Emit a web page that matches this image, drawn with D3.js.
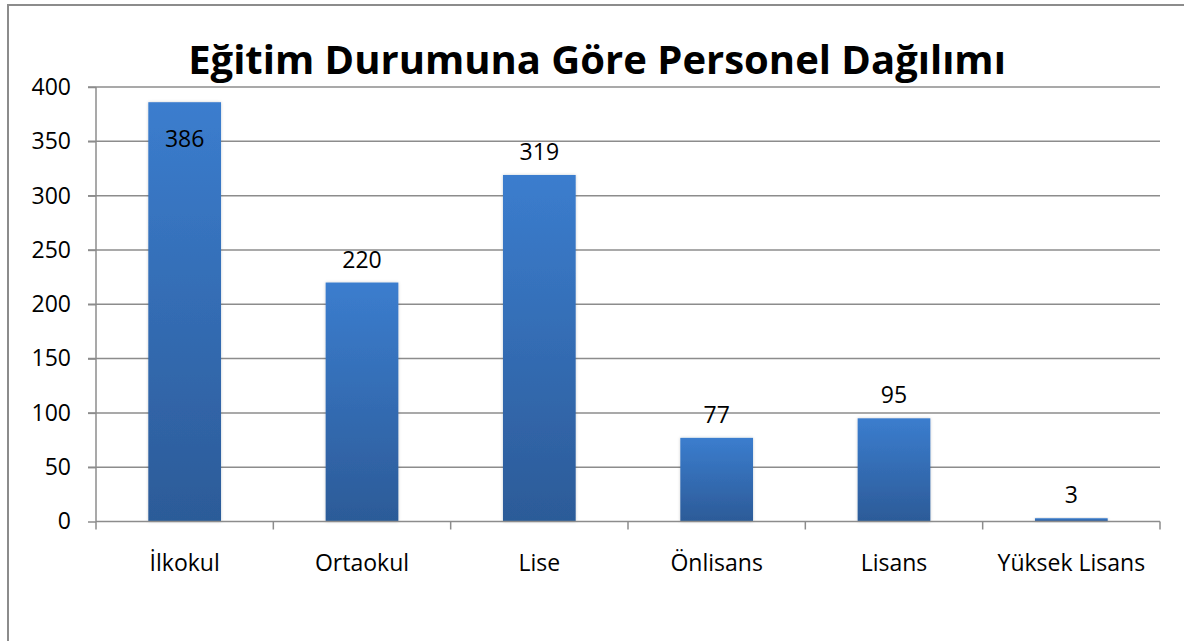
<!DOCTYPE html>
<html>
<head>
<meta charset="utf-8">
<script src="https://cdn.jsdelivr.net/npm/d3@7"></script>
<style>
  body { margin: 0; background: #fff; }
  svg { display: block; font-family: "Open Sans", "Noto Sans", sans-serif; }
</style>
</head>
<body>
<svg width="1184" height="641"></svg>
<script>
// chart data
let categories = ["İlkokul", "Ortaokul", "Lise", "Önlisans", "Lisans", "Yüksek Lisans"];
let values = [386, 220, 319, 77, 95, 3];
let yTicks = [0, 50, 100, 150, 200, 250, 300, 350, 400];
let title = "Eğitim Durumuna Göre Personel Dağılımı";

let svg = d3.select("svg");
let font = "'Open Sans', 'Noto Sans', sans-serif";
let margin = { top: 87, right: 24, bottom: 120, left: 96 };
let plotWidth = 1160 - margin.left;
let plotHeight = 521.5 - margin.top;

// outer frame (runs past the right and bottom edges)
svg.append("rect")
  .attr("x", 8).attr("y", 5)
  .attr("width", 1200).attr("height", 700)
  .attr("fill", "none")
  .attr("stroke", "#8c8c8c")
  .attr("stroke-width", 2);

// gradient for bars
let defs = svg.append("defs");
let grad = defs.append("linearGradient")
  .attr("id", "barGrad")
  .attr("x1", 0).attr("y1", 0).attr("x2", 0).attr("y2", 1);
grad.append("stop").attr("offset", "0%").attr("stop-color", "#3b7dce");
grad.append("stop").attr("offset", "100%").attr("stop-color", "#2c5b98");

let shadow = defs.append("filter").attr("id", "shadow")
  .attr("x", "-20%").attr("y", "-20%").attr("width", "140%").attr("height", "140%");
shadow.append("feDropShadow")
  .attr("dx", 0).attr("dy", 0).attr("stdDeviation", 1.5)
  .attr("flood-color", "#000").attr("flood-opacity", 0.2);

let x = d3.scaleBand().domain(categories).range([0, plotWidth]);
let y = d3.scaleLinear().domain([0, 400]).range([plotHeight, 0]);
let barWidth = x.bandwidth() * 0.41;

let plot = svg.append("g")
  .attr("transform", "translate(" + margin.left + "," + margin.top + ")");

// gridlines
plot.append("g").selectAll("line")
  .data(yTicks.filter(d => d > 0))
  .join("line")
  .attr("x1", -8).attr("x2", plotWidth)
  .attr("y1", d => y(d)).attr("y2", d => y(d))
  .attr("stroke", "#8c8c8c")
  .attr("stroke-width", 1.5);

// y axis
let yAxis = d3.axisLeft(y).tickValues(yTicks).tickSize(8).tickPadding(17);
let yGroup = plot.append("g").attr("id", "y-axis").call(yAxis)
  .attr("font-family", font).attr("font-size", 23);
yGroup.select(".domain").remove();
yGroup.append("line")
  .attr("x1", 0).attr("x2", 0).attr("y1", 0).attr("y2", plotHeight)
  .attr("stroke", "#8c8c8c").attr("stroke-width", 1.5);
yGroup.selectAll(".tick line").attr("stroke", "#8c8c8c").attr("stroke-width", 1.5);
yGroup.selectAll(".tick text").attr("fill", "#000");

// bars
plot.append("g").selectAll("rect")
  .data(values)
  .join("rect")
  .attr("x", (d, i) => x(categories[i]) + (x.bandwidth() - barWidth) / 2)
  .attr("y", d => y(d))
  .attr("width", barWidth)
  .attr("height", d => plotHeight - y(d))
  .attr("fill", "url(#barGrad)")
  .attr("filter", "url(#shadow)");

// x axis
let xAxis = d3.axisBottom(x).tickSize(0).tickPadding(33);
let xGroup = plot.append("g").attr("id", "x-axis")
  .attr("transform", "translate(0," + plotHeight + ")")
  .call(xAxis)
  .attr("font-family", font).attr("font-size", 23);
xGroup.select(".domain").remove();
xGroup.append("line")
  .attr("x1", 0).attr("x2", plotWidth)
  .attr("stroke", "#8c8c8c").attr("stroke-width", 1.5);
xGroup.selectAll(".boundary")
  .data(d3.range(categories.length + 1))
  .join("line")
  .attr("class", "boundary")
  .attr("x1", i => i * x.step()).attr("x2", i => i * x.step())
  .attr("y1", 0).attr("y2", 8)
  .attr("stroke", "#8c8c8c").attr("stroke-width", 1.5);
xGroup.selectAll(".tick text").attr("fill", "#000");

// value labels; tall bars get the label inside
plot.append("g").selectAll("text")
  .data(values)
  .join("text")
  .attr("x", (d, i) => x(categories[i]) + x.bandwidth() / 2)
  .attr("y", d => (y(d) - 40 < 0) ? y(d) + 45 : y(d) - 15)
  .attr("text-anchor", "middle")
  .style("font-size", "23px")
  .text(d => d);

// title
svg.append("text")
  .attr("x", 597)
  .attr("y", 74)
  .attr("text-anchor", "middle")
  .style("font-size", "40px")
  .style("font-weight", "bold")
  .text(title);
</script>
</body>
</html>
